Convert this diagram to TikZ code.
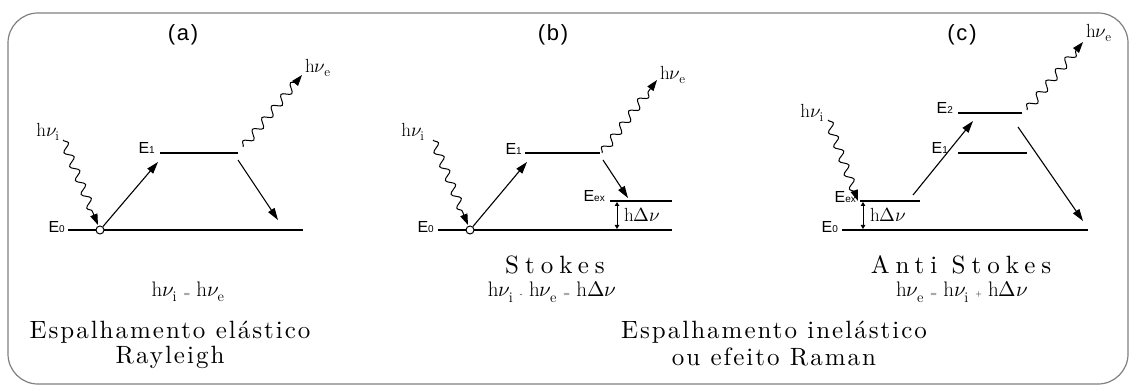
\documentclass[tikz,border=0pt]{standalone}
\usepackage{fontspec}
\usepackage{unicode-math}
\newfontfamily\lsans{Liberation Sans}
\newfontfamily\lsanstit{Liberation Sans}[LetterSpace=8]
\newfontfamily\lmlarge{lmroman10-regular.otf}[LetterSpace=8]
\newfontfamily\lmsto{lmroman10-regular.otf}[LetterSpace=24]
\usetikzlibrary{arrows.meta,decorations.pathmorphing}
\newcommand\hnu[1]{h$\nu_{\mathrm{#1}}$}
\newcommand\hdnu{h$\Delta\nu$}
\newcommand\sm[1]{{\fontsize{8}{8}\selectfont #1}}
\newcommand\sub[1]{{\fontsize{10}{10}\selectfont #1}}
\begin{document}
\begin{tikzpicture}[x=1pt,y=-1pt,
  lvl/.style={line width=1.5pt},
  tr/.style={line width=1.1pt,-{Triangle[length=12pt,width=7.5pt]}},
  wave/.style={line width=1pt,-{Triangle[length=11pt,width=7.5pt]},decorate,
    decoration={snake,amplitude=4pt,segment length=15pt,post length=8pt}},
  dbl/.style={line width=1pt,{Triangle[length=4pt,width=4.5pt]}-{Triangle[length=4pt,width=4.5pt]}},
  tit/.style={font=\lsanstit\fontsize{22}{22}\selectfont},
  elab/.style={font=\lsans\fontsize{16}{16}\selectfont,inner sep=1pt},
  hlab/.style={font=\fontsize{19}{19}\selectfont,inner sep=1pt},
  form/.style={font=\fontsize{21}{21}\selectfont},
  bigtxt/.style={font=\lmlarge\fontsize{25}{25}\selectfont},
  sto/.style={font=\lmsto\fontsize{25}{25}\selectfont},
  ring/.style={circle,draw,line width=1pt,minimum size=8pt,inner sep=0pt,fill=white}
]
\useasboundingbox (0,0) rectangle (1131,387);
\draw[gray,line width=1.2pt,rounded corners=30pt] (8,13) rectangle (1128,384);

% ---------- (a)
\node[tit] (ta) at (183,35) {(a)};
\coordinate (a0L) at (68,230); \coordinate (a0R) at (303,230);
\coordinate (a1L) at (160,153); \coordinate (a1R) at (238,153);
\draw[lvl] (a0L) -- (a0R);
\draw[lvl] (a1L) -- (a1R);
\node[elab,anchor=east] (aE0) at (66,227) {E\sub{0}};
\node[elab,anchor=east] (aE1) at (156,148) {E\sub{1}};
\node[ring] (ac) at (100,230) {};
\coordinate (aupE) at (158,162);
\coordinate (adnS) at (238,160); \coordinate (adnE) at (278,220);
\draw[tr] (ac) -- (aupE);
\draw[tr] (adnS) -- (adnE);
\node[hlab] (ahi) at (48,132) {\hnu{i}};
\coordinate (awiS) at (63,140); \coordinate (awiE) at (98,225);
\draw[wave] (awiS) -- (awiE);
\coordinate (aweS) at (243,147); \coordinate (aweE) at (302,75);
\draw[wave] (aweS) -- (aweE);
\node[hlab,anchor=west] (ahe) at (304,68) {\hnu{e}};
\node[form] (af) at (188,292) {\hnu{i} \sm{=} \hnu{e}};
\node[bigtxt] (ael) at (170,332) {Espalhamento elástico};
\node[bigtxt] (aray) at (170,357) {Rayleigh};

% ---------- (b)
\node[tit] (tb) at (553,35) {(b)};
\coordinate (b0L) at (438,230); \coordinate (b0R) at (672,230);
\coordinate (b1L) at (525,153); \coordinate (b1R) at (600,153);
\coordinate (bxL) at (610,201); \coordinate (bxR) at (672,201);
\draw[lvl] (b0L) -- (b0R);
\draw[lvl] (b1L) -- (b1R);
\draw[lvl] (bxL) -- (bxR);
\node[elab,anchor=east] (bE0) at (435,227) {E\sub{0}};
\node[elab,anchor=east] (bE1) at (523,149) {E\sub{1}};
\node[elab,anchor=east] (bEx) at (606,196) {E\sub{ex}};
\node[ring] (bc) at (470,230) {};
\coordinate (bupE) at (527,162);
\coordinate (bdnS) at (603,160); \coordinate (bdnE) at (628,198);
\draw[tr] (bc) -- (bupE);
\draw[tr] (bdnS) -- (bdnE);
\coordinate (bdT) at (617,202); \coordinate (bdB) at (617,229);
\draw[dbl] (bdT) -- (bdB);
\node[hlab,anchor=west] (bdl) at (623,215) {\hdnu};
\node[hlab] (bhi) at (413,132) {\hnu{i}};
\coordinate (bwiS) at (433,140); \coordinate (bwiE) at (468,225);
\draw[wave] (bwiS) -- (bwiE);
\coordinate (bweS) at (602,153); \coordinate (bweE) at (657,80);
\draw[wave] (bweS) -- (bweE);
\node[hlab,anchor=west] (bhe) at (659,75) {\hnu{e}};
\node[sto] (bst) at (555,265) {Stokes};
\node[form] (bf) at (552,292) {\hnu{i} \sm{-} \hnu{e} \sm{=} \hdnu};
\node[bigtxt] (bel) at (774,332) {Espalhamento inelástico};
\node[bigtxt] (bram) at (774,357) {ou efeito Raman};

% ---------- (c)
\node[tit] (tc) at (962,35) {(c)};
\coordinate (c2L) at (958,113); \coordinate (c2R) at (1022,113);
\coordinate (c1L) at (958,153); \coordinate (c1R) at (1027,153);
\coordinate (cxL) at (860,201); \coordinate (cxR) at (920,201);
\coordinate (c0L) at (842,230); \coordinate (c0R) at (1088,230);
\draw[lvl] (c2L) -- (c2R);
\draw[lvl] (c1L) -- (c1R);
\draw[lvl] (cxL) -- (cxR);
\draw[lvl] (c0L) -- (c0R);
\node[elab,anchor=east] (cE2) at (954,108) {E\sub{2}};
\node[elab,anchor=east] (cE1) at (949,148) {E\sub{1}};
\node[elab,anchor=east] (cEx) at (857,197) {E\sub{ex}};
\node[elab,anchor=east] (cE0) at (839,227) {E\sub{0}};
\coordinate (cdT) at (863,202); \coordinate (cdB) at (863,229);
\draw[dbl] (cdT) -- (cdB);
\node[hlab,anchor=west] (cdl) at (869,215) {\hdnu};
\coordinate (cupS) at (913,195); \coordinate (cupE) at (973,121);
\draw[tr] (cupS) -- (cupE);
\coordinate (cdnS) at (1018,127); \coordinate (cdnE) at (1083,221);
\draw[tr] (cdnS) -- (cdnE);
\node[hlab] (chi) at (812,113) {\hnu{i}};
\coordinate (cwiS) at (828,120); \coordinate (cwiE) at (858,201);
\draw[wave] (cwiS) -- (cwiE);
\coordinate (cweS) at (1027,110); \coordinate (cweE) at (1083,42);
\draw[wave] (cweS) -- (cweE);
\node[hlab,anchor=west] (che) at (1085,33) {\hnu{e}};
\node[sto] (cst) at (961,265) {Anti Stokes};
\node[form] (cf) at (962,292) {\hnu{e} \sm{=} \hnu{i} \sm{+} \hdnu};
\end{tikzpicture}
\end{document}
